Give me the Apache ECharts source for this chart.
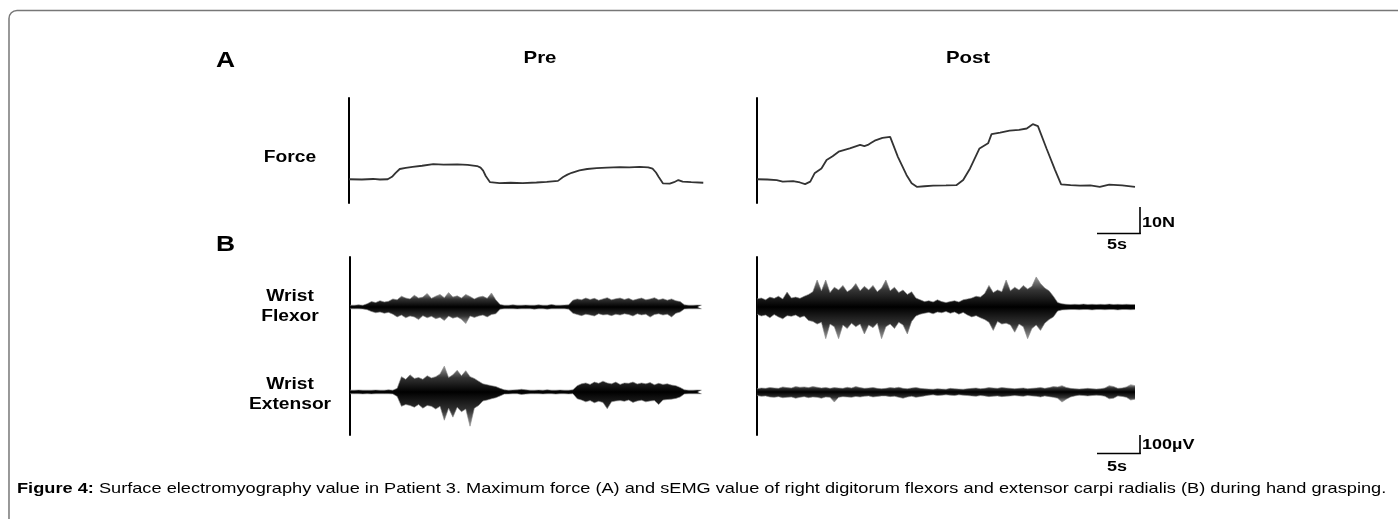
<!DOCTYPE html>
<html>
<head>
<meta charset="utf-8">
<script src="https://cdn.jsdelivr.net/npm/echarts@6/dist/echarts.min.js"></script>
<style>
html,body{margin:0;padding:0;background:#fff;}
#chart{width:1398px;height:519px;}
</style>
</head>
<body>
<div id="chart"></div>
<script>
// ---------- DATA ----------
// Force traces: time (s) and force (N, relative to resting baseline)
const forcePreT = [0,1.5,2.8,3.6,4.5,5.0,5.4,5.9,6.6,7.4,8.5,9.8,11.0,12.6,13.8,14.9,15.3,15.6,15.9,16.4,17.5,18.8,20.2,21.8,23.0,24.3,24.9,25.4,25.9,26.8,27.7,28.8,30.0,31.5,32.6,33.8,34.8,35.3,35.7,36.0,36.5,37.3,37.8,38.3,38.8,39.8,41.2];
const forcePreN = [0.3,0.2,0.4,0.2,0.3,1.2,2.6,4.1,4.5,4.9,5.3,5.9,5.7,5.8,5.6,5.2,4.6,3.5,1.5,-0.8,-1.1,-1.0,-1.1,-0.9,-0.7,-0.3,1.1,2.0,2.7,3.6,4.1,4.4,4.6,4.8,4.7,4.9,4.7,4.2,2.8,1.2,-1.2,-1.3,-0.8,0.0,-0.6,-0.8,-1.0];
const forcePostT = [0,1.2,2.3,3.0,4.2,5.0,5.6,6.2,6.7,7.5,8.1,8.8,9.5,10.8,12.0,12.5,12.9,13.3,13.7,14.6,15.5,15.7,16.4,17.4,18.0,18.6,19.5,20.5,22.0,23.2,24.0,24.8,25.9,26.9,27.3,28.3,29.4,30.5,31.4,32.1,32.7,33.7,34.7,35.4,36.5,37.6,38.8,39.9,41.0,42.5,44.0];
const forcePostN = [0.3,0.2,0.0,-0.6,-0.4,-0.9,-1.5,-0.6,2.5,4.3,7.4,8.8,10.5,11.7,13.0,12.6,13.0,13.8,14.6,15.6,16.0,16.0,8.6,1.9,-1.2,-2.5,-2.3,-2.1,-2.0,-1.9,0.0,4.3,11.7,13.6,17.0,17.6,18.3,18.6,19.1,20.7,20.0,11.7,3.7,-1.6,-1.9,-2.1,-2.0,-2.5,-1.7,-2.0,-2.5];

// sEMG envelopes, one value per 0.5 s bin (µV): upward and downward excursion
const EMG_STEP = 0.5;
const flexPreUp = [10,10,12,10,18, 30,25,35,28,32, 45,40,60,50,45, 65,50,55,75,48, 60,70,52,80,55, 62,50,70,58,45, 55,60,48,78,40, 14,10,10,12,10, 10,11,10,10,12, 10,10,14,10,10, 11,12,38,45,40, 50,42,48,38,45, 52,40,46,50,42, 48,38,44,50,40, 45,52,40,46,38, 45,35,30, 12,10,10,11,10];
const flexPreDn = [10,10,10,11,15, 25,32,28,35,30, 40,55,45,60,50, 55,70,48,60,52, 65,58,75,50,62, 55,68,92,50,58, 50,45,55,42,38, 12,10,10,10,11, 10,10,10,12,10, 10,12,10,10,10, 10,12,35,42,48, 40,45,50,38,44, 42,48,40,45,38, 42,50,38,44,40, 56,42,38,45,40, 55,35,28, 11,10,10,10,10];
const extPreUp = [10,10,11,10,10, 10,11,10,10,12, 10,20,85,70,95, 75,80,70,90,78, 85,100,143,80,95, 120,90,118,85,75, 60,45,40,35,30, 20,12,10,11,12, 15,12,10,10,11, 10,12,10,10,11, 10,10,12,35,45, 50,42,55,48,60, 50,45,55,42,50, 48,55,44,50,45, 52,40,48,42,45, 38,35,25, 12,10,10,11,10];
const extPreDn = [10,10,10,11,10, 11,10,10,10,10, 11,25,80,70,75, 85,70,90,75,80, 95,80,157,90,140, 85,110,95,190,90, 75,50,45,38,32, 22,12,11,10,10, 14,12,10,10,10, 11,10,10,12,10, 10,11,10,38,45, 55,48,60,52,58, 93,55,50,48,52, 45,58,50,46,55, 50,48,70,45,42, 40,36,28, 11,10,10,10,10];
const flexPostUp = [45,50,40,55,48, 60,45,83,50,55, 48,60,70,85,150, 90,150,80,110,95, 120,85,100,130,90, 115,95,120,85,105, 150,90,110,80,95, 70,85,50,40,30, 35,28,40,30,25, 30,35,28,40,45, 50,60,55,75,120, 80,95,85,150,90, 110,95,120,100,115, 167,130,105,90,60, 25,18,15,14,15, 14,16,14,15,14, 15,14,16,14,15, 14,15,14,14];
const flexPostDn = [40,50,45,60,42, 55,66,48,52,45, 58,50,75,80,95, 85,176,95,110,176, 100,120,90,110,95, 150,100,115,90,176, 110,95,120,85,100, 150,80,50,40,35, 30,38,28,32,25, 35,28,40,30,45, 55,48,60,70,85, 130,80,95,90,100, 140,95,110,176,120, 100,130,90,70,55, 22,16,15,14,14, 15,14,14,16,14, 14,15,14,14,16, 14,14,15,14];
const extPostUp = [18,22,20,25,22, 20,28,24,22,30, 26,28,24,30,26, 22,25,20,24,22, 20,26,22,30,24, 20,22,25,20,18, 20,24,22,26,20, 18,22,25,20,18, 16,15,18,16,15, 20,18,16,15,18, 20,22,18,20,24, 22,20,25,22,20, 18,20,22,18,20, 22,25,20,24,30, 28,35,25,20,18, 16,18,20,18,16, 18,22,35,30,20, 22,28,40,35];
const extPostDn = [20,24,22,28,30, 26,32,30,28,35, 30,26,32,28,30, 35,28,30,56,30, 26,28,30,25,28, 24,22,28,25,22, 22,26,24,30,35, 28,24,30,26,22, 18,16,20,18,16, 18,20,16,18,20, 22,24,20,22,26, 24,22,26,24,22, 20,22,24,20,22, 24,28,22,26,30, 35,56,40,28,22, 18,20,22,20,18, 20,24,38,35,22, 25,30,45,40];

// Text
const panelLabels = ['A', 'B'];
const conditionLabels = ['Pre', 'Post'];
const rowLabels = ['Force', 'Wrist\nFlexor', 'Wrist\nExtensor'];
const forceScaleLabels = ['10N', '5s'];
const emgScaleLabels = ['100µV', '5s'];
const captionBold = 'Figure 4:';
const captionText = ' Surface electromyography value in Patient 3. Maximum force (A) and sEMG value of right digitorum flexors and extensor carpi radialis (B) during hand grasping.';

// ---------- BUILD ----------
const FONT = '"Liberation Sans", Arial, sans-serif';
const SX = 1.2; // horizontal stretch of the original figure's lettering
const pairs = (T, V) => T.map((t, i) => [t, V[i]]);
const emgPairs = (V, sign) => V.map((v, i) => [i * EMG_STEP, sign * v]);

const PRE_LEFT = 349, POST_LEFT = 757;
const PRE_W = 356, POST_W = 378;
const PRE_MAX = 41.4, POST_MAX = 44;

const grids = [
  {left: PRE_LEFT, top: 98, width: PRE_W, height: 105},
  {left: POST_LEFT, top: 98, width: POST_W, height: 105},
  {left: PRE_LEFT + 1, top: 257, width: PRE_W - 1, height: 100},
  {left: POST_LEFT, top: 257, width: POST_W, height: 100},
  {left: PRE_LEFT + 1, top: 357, width: PRE_W - 1, height: 78},
  {left: POST_LEFT, top: 357, width: POST_W, height: 78}
];
const xMax = [PRE_MAX, POST_MAX, PRE_MAX, POST_MAX, PRE_MAX, POST_MAX];
const yRange = [[-8.5, 30.4], [-8.5, 30.4], [-278, 278], [-278, 278], [-239, 194], [-239, 194]];

const xAxes = grids.map((g, i) => ({
  type: 'value', gridIndex: i, min: 0, max: xMax[i], show: false
}));
const yAxes = grids.map((g, i) => ({
  type: 'value', gridIndex: i, min: yRange[i][0], max: yRange[i][1],
  axisLine: {show: true, onZero: false, lineStyle: {color: '#000', width: 2}},
  axisTick: {show: false}, axisLabel: {show: false}, splitLine: {show: false}
}));

function forceSeries(idx, data) {
  return {
    type: 'line', xAxisIndex: idx, yAxisIndex: idx, data: data,
    showSymbol: false, symbol: 'none', silent: true,
    lineStyle: {color: '#333', width: 1.8}
  };
}
function emgSeries(idx, data, up) {
  const stops = up
    ? [{offset: 0, color: '#9a9a9a'}, {offset: 0.45, color: '#333'}, {offset: 1, color: '#000'}]
    : [{offset: 0, color: '#000'}, {offset: 0.55, color: '#333'}, {offset: 1, color: '#9a9a9a'}];
  return {
    type: 'line', xAxisIndex: idx, yAxisIndex: idx, data: data,
    showSymbol: false, symbol: 'none', silent: true,
    lineStyle: {color: '#888', width: 0.6},
    areaStyle: {color: new echarts.graphic.LinearGradient(0, 0, 0, 1, stops), opacity: 1, origin: 0}
  };
}

const series = [
  forceSeries(0, pairs(forcePreT, forcePreN)),
  forceSeries(1, pairs(forcePostT, forcePostN)),
  emgSeries(2, emgPairs(flexPreUp, 1), true), emgSeries(2, emgPairs(flexPreDn, -1), false),
  emgSeries(3, emgPairs(flexPostUp, 1), true), emgSeries(3, emgPairs(flexPostDn, -1), false),
  emgSeries(4, emgPairs(extPreUp, 1), true), emgSeries(4, emgPairs(extPreDn, -1), false),
  emgSeries(5, emgPairs(extPostUp, 1), true), emgSeries(5, emgPairs(extPostDn, -1), false)
];

function txt(x, y, text, opts) {
  return {
    type: 'text', x: x, y: y, silent: true, scaleX: SX,
    style: Object.assign({
      text: text, fill: '#000', font: 'bold 16px ' + FONT,
      textAlign: 'center', textVerticalAlign: 'middle', lineHeight: 20
    }, opts || {})
  };
}
function line(x1, y1, x2, y2) {
  return {type: 'line', silent: true, shape: {x1, y1, x2, y2}, style: {stroke: '#000', lineWidth: 1.6}};
}

const graphic = [
  {type: 'rect', silent: true, shape: {x: 9, y: 10.5, width: 1420, height: 540, r: 8},
   style: {fill: 'none', stroke: '#777', lineWidth: 1.5}},
  txt(216, 61, panelLabels[0], {font: 'bold 22px ' + FONT, textAlign: 'left'}),
  txt(216, 245, panelLabels[1], {font: 'bold 22px ' + FONT, textAlign: 'left'}),
  txt(540, 58, conditionLabels[0], {font: 'bold 17px ' + FONT}),
  txt(968, 58, conditionLabels[1], {font: 'bold 17px ' + FONT}),
  txt(290, 158, rowLabels[0]),
  txt(290, 307, rowLabels[1]),
  txt(290, 395, rowLabels[2]),
  // force scale bar
  line(1140, 207, 1140, 234), line(1097, 233.5, 1140.8, 233.5),
  txt(1142, 223, forceScaleLabels[0], {textAlign: 'left', font: 'bold 15px ' + FONT}),
  txt(1117, 245, forceScaleLabels[1], {font: 'bold 15px ' + FONT}),
  // EMG scale bar
  line(1140, 435, 1140, 454), line(1097, 453.5, 1140.8, 453.5),
  txt(1142, 445, emgScaleLabels[0], {textAlign: 'left', font: 'bold 15px ' + FONT}),
  txt(1117, 467, emgScaleLabels[1], {font: 'bold 15px ' + FONT}),
  // caption
  {type: 'text', x: 17, y: 489, silent: true, scaleX: 1.213,
   style: {text: '{b|' + captionBold + '}' + captionText, fill: '#000',
     font: '15px ' + FONT, textAlign: 'left', textVerticalAlign: 'middle',
     rich: {b: {fontWeight: 'bold', fontSize: 15, fontFamily: FONT}}}}
];

const chart = echarts.init(document.getElementById('chart'), null, {renderer: 'canvas'});
chart.setOption({
  animation: false,
  backgroundColor: '#fff',
  grid: grids,
  xAxis: xAxes,
  yAxis: yAxes,
  series: series,
  graphic: graphic
});
</script>
</body>
</html>
